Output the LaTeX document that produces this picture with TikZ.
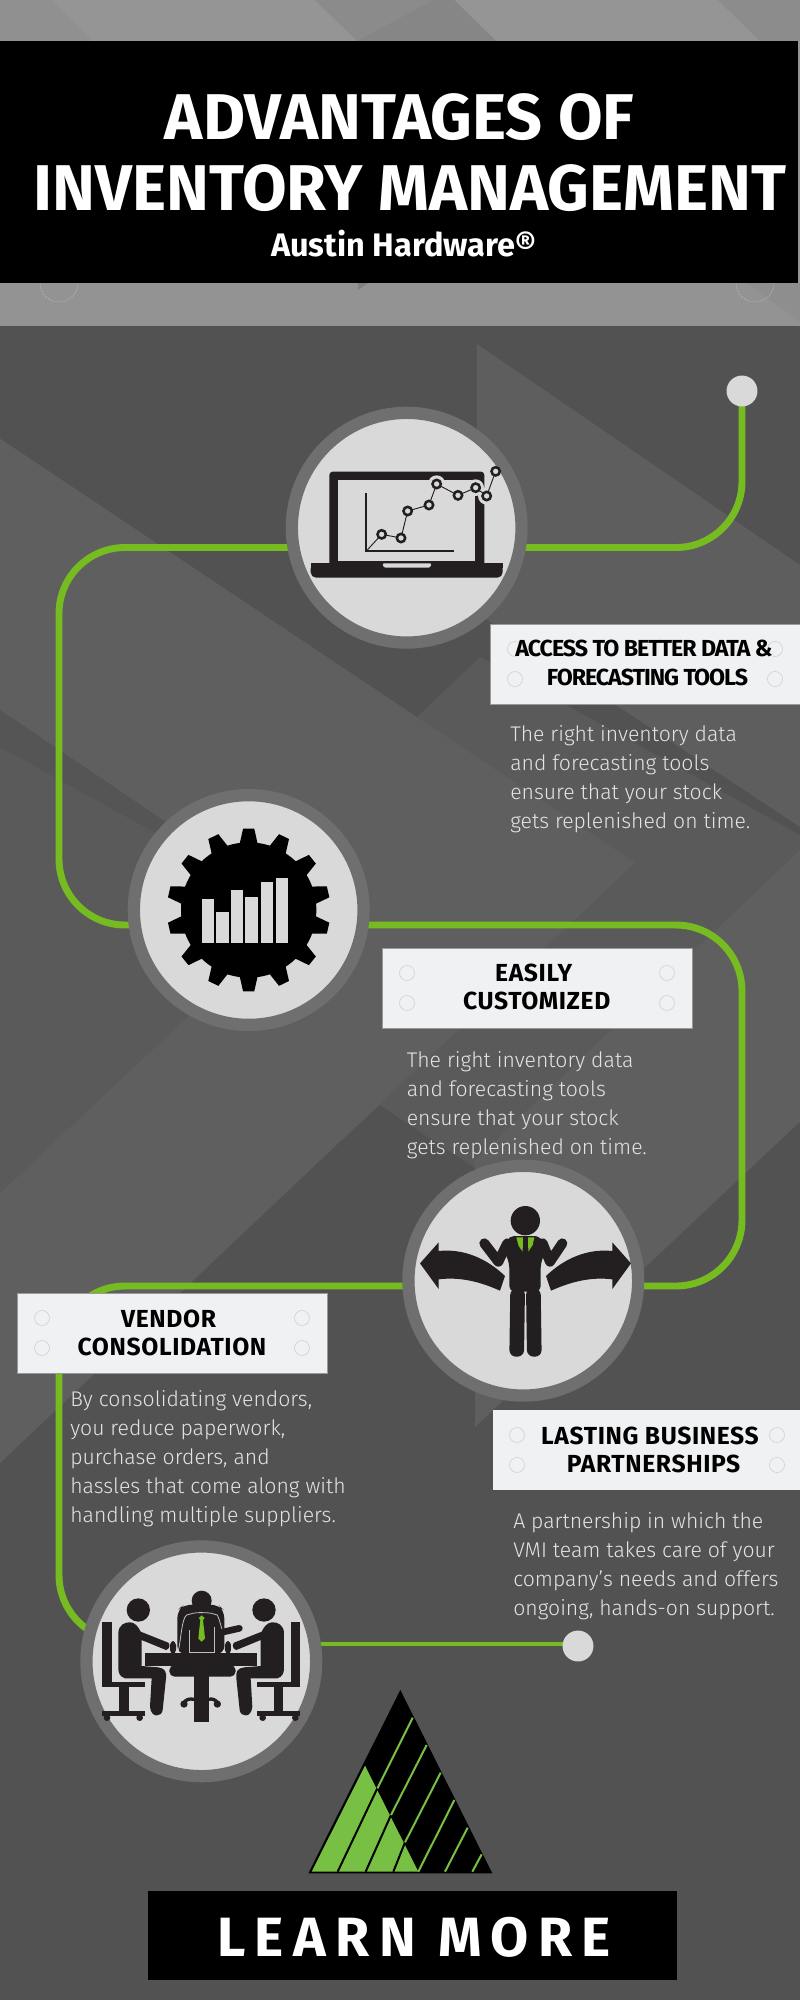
\documentclass[tikz,border=0pt]{standalone}
\usepackage{fontspec}
\setmainfont{Fira Sans}
\newfontfamily\firalight{Fira Sans Light}
\newfontfamily\firabold{Fira Sans Bold}
\newfontfamily\firahead[LetterSpace=2.5]{Fira Sans Bold}
\newfontfamily\firatight[LetterSpace=-4.5]{Fira Sans Bold}
\newfontfamily\firawide[LetterSpace=17]{Fira Sans Bold}
\definecolor{inkdark}{HTML}{231F20}
\definecolor{leaf}{HTML}{76BC21}
\definecolor{logoleaf}{HTML}{78C043}
\definecolor{disc}{HTML}{D9D9D9}
\definecolor{ring}{HTML}{6F6F6F}
\definecolor{panel}{HTML}{F0F1F3}
\definecolor{bodytext}{HTML}{E4E4E4}
\pgfdeclarelayer{bg}
\pgfdeclarelayer{conn}
\pgfsetlayers{bg,conn,main}
\tikzset{
  ringnode/.style={circle,inner sep=0pt,minimum size=172.3pt,fill=disc,draw=ring,line width=9.2pt},
  dotnode/.style={circle,inner sep=0pt,minimum size=23.2pt,fill=disc},
  labelbox/.style={rectangle,inner sep=0pt,fill=panel,draw=black!40,line width=0.4pt,minimum height=60pt},
  head/.style={anchor=base,font=\firahead\fontsize{18.5}{20}\selectfont,text=black,inner sep=0pt},
  headtight/.style={anchor=base,font=\firatight\fontsize{17.4}{20}\selectfont,text=black,inner sep=0pt},
  desc/.style={anchor=base west,font=\firalight\fontsize{15.9}{20}\selectfont,text=bodytext,inner sep=0pt},
  title/.style={anchor=base,font=\firabold\fontsize{48.5}{50}\selectfont,text=white,inner sep=0pt},
  flow/.style={draw=leaf,line width=5.2pt,rounded corners=49.5pt},
  thinflow/.style={draw=leaf,line width=3pt},
  hole/.style={draw=black!20,line width=0.4pt},
  ink/.style={fill=inkdark},
}
\newcommand{\holes}[4]{\foreach \hx in {#1,#2}\foreach \hy in {#3,#4}\draw[hole] (\hx,\hy) circle (7.5);}
\newcommand{\seated}{%
  \fill[ink] (97,276) rectangle (125,470);
  \fill[ink] (97,455) rectangle (226,470);
  \fill[ink] (148,470) rectangle (176,545);
  \fill[ink] (97,542) rectangle (226,558);
  \fill[ink] (111,563) circle (10);
  \fill[ink] (209,563) circle (10);
  \fill[ink] (205,240) circle (35);
  \fill[ink] (145,310) .. controls (145,285) and (165,275) .. (182,277) .. controls (195,278) and (205,290) .. (212,305) -- (295,338) .. controls (302,345) and (298,358) .. (288,360) -- (215,330) -- (215,408) -- (265,412) .. controls (285,415) and (290,425) .. (288,445) -- (278,540) .. controls (275,562) and (243,565) .. (240,530) -- (245,445) -- (165,445) .. controls (150,440) and (145,430) .. (145,415) -- cycle;
}
\begin{document}
\begin{tikzpicture}[x=0.75pt,y=-0.75pt]
\useasboundingbox (0,0) rectangle (800,2000);
% ---------- background ----------
\begin{pgfonlayer}{bg}
\fill[fill={rgb,255:red,149;green,149;blue,149}] (0,0) rectangle (800,326);
\fill[fill={rgb,255:red,144;green,144;blue,144}] (0,0) -- (51,0) -- (92,41) -- (0,41) -- cycle;
\fill[fill={rgb,255:red,139;green,139;blue,139}] (315,0) -- (454,0) -- (496,41) -- (357,41) -- cycle;
\fill[fill={rgb,255:red,134;green,134;blue,134}] (434,0) -- (454,0) -- (496,41) -- (357,41) -- cycle;
\fill[fill={rgb,255:red,140;green,140;blue,140}] (718,0) -- (800,0) -- (800,41) -- (760,41) -- cycle;
\fill[fill={rgb,255:red,147;green,147;blue,147}] (0,283) rectangle (800,326);
\fill[fill={rgb,255:red,142;green,142;blue,142}] (748,283) -- (800,283) -- (800,322) -- cycle;
\fill[fill={rgb,255:red,128;green,128;blue,128}] (358,283) -- (358,290) -- (368,283) -- cycle;
\draw[black!15,line width=0.4pt,densely dotted] (59,283) circle (19);
\draw[black!15,line width=0.4pt,densely dotted] (755,283) circle (19);
\fill[fill={rgb,255:red,82;green,82;blue,82}] (0,326) rectangle (800,2000);
% dark-to-light geometric facets
\fill[fill={rgb,255:red,90;green,90;blue,90}] (418,716) -- (480,657) -- (800,835) -- (800,860) -- (475,1168) -- (380,1105) -- (340,1142) -- cycle;
\fill[fill={rgb,255:red,94;green,94;blue,94}] (477,344) -- (800,565) -- (800,827) -- (477,613) -- cycle;
\fill[fill={rgb,255:red,95;green,95;blue,95}] (800,850) -- (475,1160) -- (475,1427) -- (800,1121.7) -- cycle;
\fill[fill={rgb,255:red,95;green,95;blue,95}] (0,438.6) -- (635,862.7) -- (0,1463) -- cycle;
\fill[fill={rgb,255:red,90;green,90;blue,90}] (0,710) -- (299,912) -- (0,1193) -- cycle;
\fill[fill={rgb,255:red,85;green,85;blue,85}] (0,710) -- (299,912) -- (0,747) -- cycle;
\end{pgfonlayer}
% ---------- header ----------
\node[rectangle,fill=black,inner sep=0pt,minimum width=598.5pt,minimum height=181.5pt] (band) at (399.2,162) {};
\node[title] (t1) at (399.6,139) {ADVANTAGES OF};
\node[title] (t2) at (410,210) {INVENTORY MANAGEMENT};
\node[anchor=base,font=\firabold\fontsize{24.4}{26}\selectfont,text=white,inner sep=0pt] (t3) at (403.5,256.7) {Austin Hardware®};
% ---------- step discs ----------
\node[ringnode] (c1) at (406.7,527.7) {};
\node[ringnode] (c2) at (248.7,910) {};
\node[ringnode] (c3) at (523.3,1280.7) {};
\node[ringnode] (c4) at (201.3,1661.3) {};
\node[dotnode] (dot1) at (742,391) {};
\node[dotnode] (dot2) at (578,1646) {};
% ---------- connector ----------
\coordinate (e1) at (742,547.5);
\coordinate (w1) at (59,547.5);
\coordinate (w2) at (59,925);
\coordinate (e2) at (742,925);
\coordinate (e3) at (742,1286);
\coordinate (w3) at (59,1286);
\coordinate (w4) at (59,1641);
\coordinate (t4) at (320,1644);
\begin{pgfonlayer}{conn}
\draw[flow] (dot1.center) -- (e1) -- (w1) -- (w2) -- (e2) -- (e3) -- (w3) -- (w4) -- (w4 -| c4);
\draw[thinflow] (t4) -- (t4 -| dot2);
\end{pgfonlayer}
% ---------- label 1 ----------
\node[labelbox,minimum width=232.5pt] (box1) at (645,664) {};
\holes{515}{775}{649}{679}
\node[headtight] (h1a) at (644,656) {ACCESS TO BETTER DATA \&};
\node[headtight] (h1b) at (647.5,685) {FORECASTING TOOLS};
\node[desc] (d1a) at (510,741.7) {The right inventory data};
\node[desc] (d1b) at (510,770.7) {and forecasting tools};
\node[desc] (d1c) at (510,799.7) {ensure that your stock};
\node[desc] (d1d) at (510,828.7) {gets replenished on time.};
% ---------- label 2 ----------
\node[labelbox,minimum width=232pt] (box2) at (537.3,988) {};
\holes{407}{667}{973}{1003}
\node[head] (h2a) at (533.7,981) {EASILY};
\node[head] (h2b) at (536.7,1009) {CUSTOMIZED};
\node[desc] (d2a) at (406.6,1067) {The right inventory data};
\node[desc] (d2b) at (406.6,1096) {and forecasting tools};
\node[desc] (d2c) at (406.6,1125) {ensure that your stock};
\node[desc] (d2d) at (406.6,1154) {gets replenished on time.};
% ---------- label 3 ----------
\node[labelbox,minimum width=232.5pt] (box3) at (172.5,1333.2) {};
\holes{42}{302}{1318}{1348}
\node[head] (h3a) at (168.6,1327.5) {VENDOR};
\node[head] (h3b) at (172,1355.5) {CONSOLIDATION};
\node[desc] (d3a) at (70,1406.5) {By consolidating vendors,};
\node[desc] (d3b) at (70,1435.5) {you reduce paperwork,};
\node[desc] (d3c) at (70,1464.5) {purchase orders, and};
\node[desc] (d3d) at (70,1493.5) {hassles that come along with};
\node[desc] (d3e) at (70,1522.5) {handling multiple suppliers.};
% ---------- label 4 ----------
\node[labelbox,minimum width=230.25pt,draw=none] (box4) at (646.5,1450) {};
\holes{517}{777}{1435}{1465}
\node[head] (h4a) at (650,1444) {LASTING BUSINESS};
\node[head] (h4b) at (653.6,1472.5) {PARTNERSHIPS};
\node[desc] (d4a) at (513,1528.5) {A partnership in which the};
\node[desc] (d4b) at (513,1557.5) {VMI team takes care of your};
\node[desc] (d4c) at (513,1586.5) {company’s needs and offers};
\node[desc] (d4d) at (513,1615.5) {ongoing, hands-on support.};
% ---------- icon 1: laptop ----------
\begin{scope}[shift={(270,390)},scale=1/3]
\fill[ink,rounded corners=2.5pt] (178,245) rectangle (643,530);
\fill[disc] (205,270) rectangle (615,513);
\fill[ink,rounded corners=4pt] (122,520) -- (698,520) -- (698,563) -- (122,563) -- cycle;
\fill[ink] (122,520) rectangle (698,535);
\fill[disc,rounded corners=1pt] (337,520) -- (485,520) -- (480,533) -- (342,533) -- cycle;
\fill[disc] (500,282) circle (26);
\fill[disc] (617,293) circle (25);
\fill[disc] (650,318) circle (26);
\draw[inkdark,line width=1.3pt] (288,310) -- (288,484) -- (551,484);
\draw[inkdark,line width=0.7pt] (290,482) -- (335,433) -- (393,444) -- (413,363) -- (477,345) -- (500,282) -- (564,316) -- (617,293) -- (650,318) -- (677,244);
\foreach \px/\py in {335/433,393/444,413/363,477/345,500/282,564/316,617/293,650/318,677/244}
  \draw[inkdark,fill=disc,line width=1.9pt] (\px,\py) circle (12.5);
\end{scope}
% ---------- icon 2: gear and bars ----------
\begin{scope}[shift={(120,780)},scale=1/3]
\begin{scope}[shift={(386,390)}]
\fill[black] (0,0) circle (203);
\foreach \a in {0,...,13}{
  \pgfmathsetmacro\t{90+\a*360/14}
  \fill[black] ({\t-8}:198) -- ({\t-3.9}:245) -- ({\t+3.9}:245) -- ({\t+8}:198) -- cycle;
}
\end{scope}
\foreach \bl/\br/\bt in {245/282/358,289/327/395,332/369/330,376/413/350,423/460/307,467/504/294}
  \fill[disc] (\bl,\bt) rectangle (\br,488);
\end{scope}
% ---------- icon 3: person with arrows ----------
\begin{scope}[shift={(390,1150)},scale=1/3]
\fill[ink] (406,212) circle (44);
\fill[ink,rounded corners=4pt] (358,425) -- (358,340) -- (342,300) -- (356,258) -- (450,258) -- (468,300) -- (452,340) -- (452,425) -- cycle;
\draw[inkdark,line width=7.5pt,line cap=round,line join=round] (352,280) -- (325,335) -- (283,280);
\draw[inkdark,line width=7.5pt,line cap=round,line join=round] (458,280) -- (480,335) -- (517,280);
\fill[ink,rounded corners=5pt] (361,415) -- (405,415) -- (402,620) -- (358,620) -- cycle;
\fill[ink,rounded corners=5pt] (408,415) -- (452,415) -- (455,620) -- (411,620) -- cycle;
\fill[leaf] (379,262) -- (399,262) -- (398,305) -- (386,288) -- cycle;
\fill[leaf] (414,262) -- (433,262) -- (428,285) -- (415,305) -- cycle;
\fill[ink] (90,340) -- (146,277) -- (146,303) .. controls (220,295) and (290,325) .. (345,378) -- (330,422) .. controls (270,395) and (210,380) .. (146,388) -- (146,417) -- cycle;
\fill[ink] (723,340) -- (667,277) -- (667,303) .. controls (593,295) and (523,325) .. (468,378) -- (483,422) .. controls (543,395) and (603,380) .. (667,388) -- (667,417) -- cycle;
\end{scope}
% ---------- icon 4: meeting ----------
\begin{scope}[shift={(70,1530)},scale=1/3]
\seated
\begin{scope}[shift={(787,0)},xscale=-1]
\seated
\end{scope}
% centre person
\fill[ink,rounded corners=6pt] (322,372) -- (322,240) -- (342,224) -- (445,224) -- (463,242) -- (463,372) -- cycle;
\fill[ink] (395,212) circle (30);
\draw[black!25,line width=0.6pt] (325,362) .. controls (333,330) and (335,265) .. (350,255) -- (368,250) .. controls (380,247) and (410,247) .. (425,250) -- (442,255) .. controls (450,270) and (452,290) .. (462,315);
\draw[black!25,line width=0.6pt] (357,300) -- (357,368) -- (432,368) -- (432,292);
\draw[inkdark,line width=5pt,line cap=round] (450,308) -- (508,295);
\fill[leaf] (395,256) -- (404,264) -- (399,270) -- (405,325) -- (395,335) -- (385,325) -- (391,270) -- (386,264) -- cycle;
% table
\fill[ink,rounded corners=3pt] (300,333) rectangle (318,372);
\fill[ink,rounded corners=3pt] (465,333) rectangle (483,372);
\fill[ink] (225,370) rectangle (562,408);
\fill[ink,rounded corners=4pt] (298,405) -- (298,440) -- (497,440) -- (497,405) -- cycle;
\fill[ink] (372,438) rectangle (416,575);
\draw[inkdark,line width=2.5pt] (342,520) .. controls (345,508) and (360,505) .. (372,508);
\draw[inkdark,line width=2.5pt] (442,520) .. controls (439,508) and (424,505) .. (416,508);
\fill[ink] (342,522) circle (11);
\fill[ink] (442,522) circle (11);
\end{scope}
% ---------- logo ----------
\begin{scope}[shift={(290,1670)},scale=1/3]
\fill[black] (331,60) -- (607,610) -- (55,610) -- cycle;
\fill[logoleaf] (65,605) -- (225,287) -- (385,605) -- cycle;
\foreach \xa/\ya/\xb/\yb/\xc/\yc in {143/605/262/355/368/143,227/605/303/435/410/225,310/605/345/517/452/308}{
  \draw[black,line width=1.5pt] (\xa,\ya) -- (\xb,\yb);
  \draw[logoleaf,line width=1.5pt] (\xb,\yb) -- (\xc,\yc);
}
\draw[logoleaf,line width=1.5pt] (385,605) -- (493,390);
\draw[logoleaf,line width=1.5pt] (465,605) -- (533,473);
\draw[logoleaf,line width=1.5pt] (547,605) -- (575,553);
\end{scope}
% ---------- footer ----------
\node[rectangle,fill=black,inner sep=0pt,minimum width=396.75pt,minimum height=66.75pt] (cta) at (412,1935.5) {};
\node[anchor=base,font=\firawide\fontsize{41.5}{44}\selectfont,text=white,inner sep=0pt] (ctat) at (414,1956.7) {LEARN MORE};
\end{tikzpicture}
\end{document}
